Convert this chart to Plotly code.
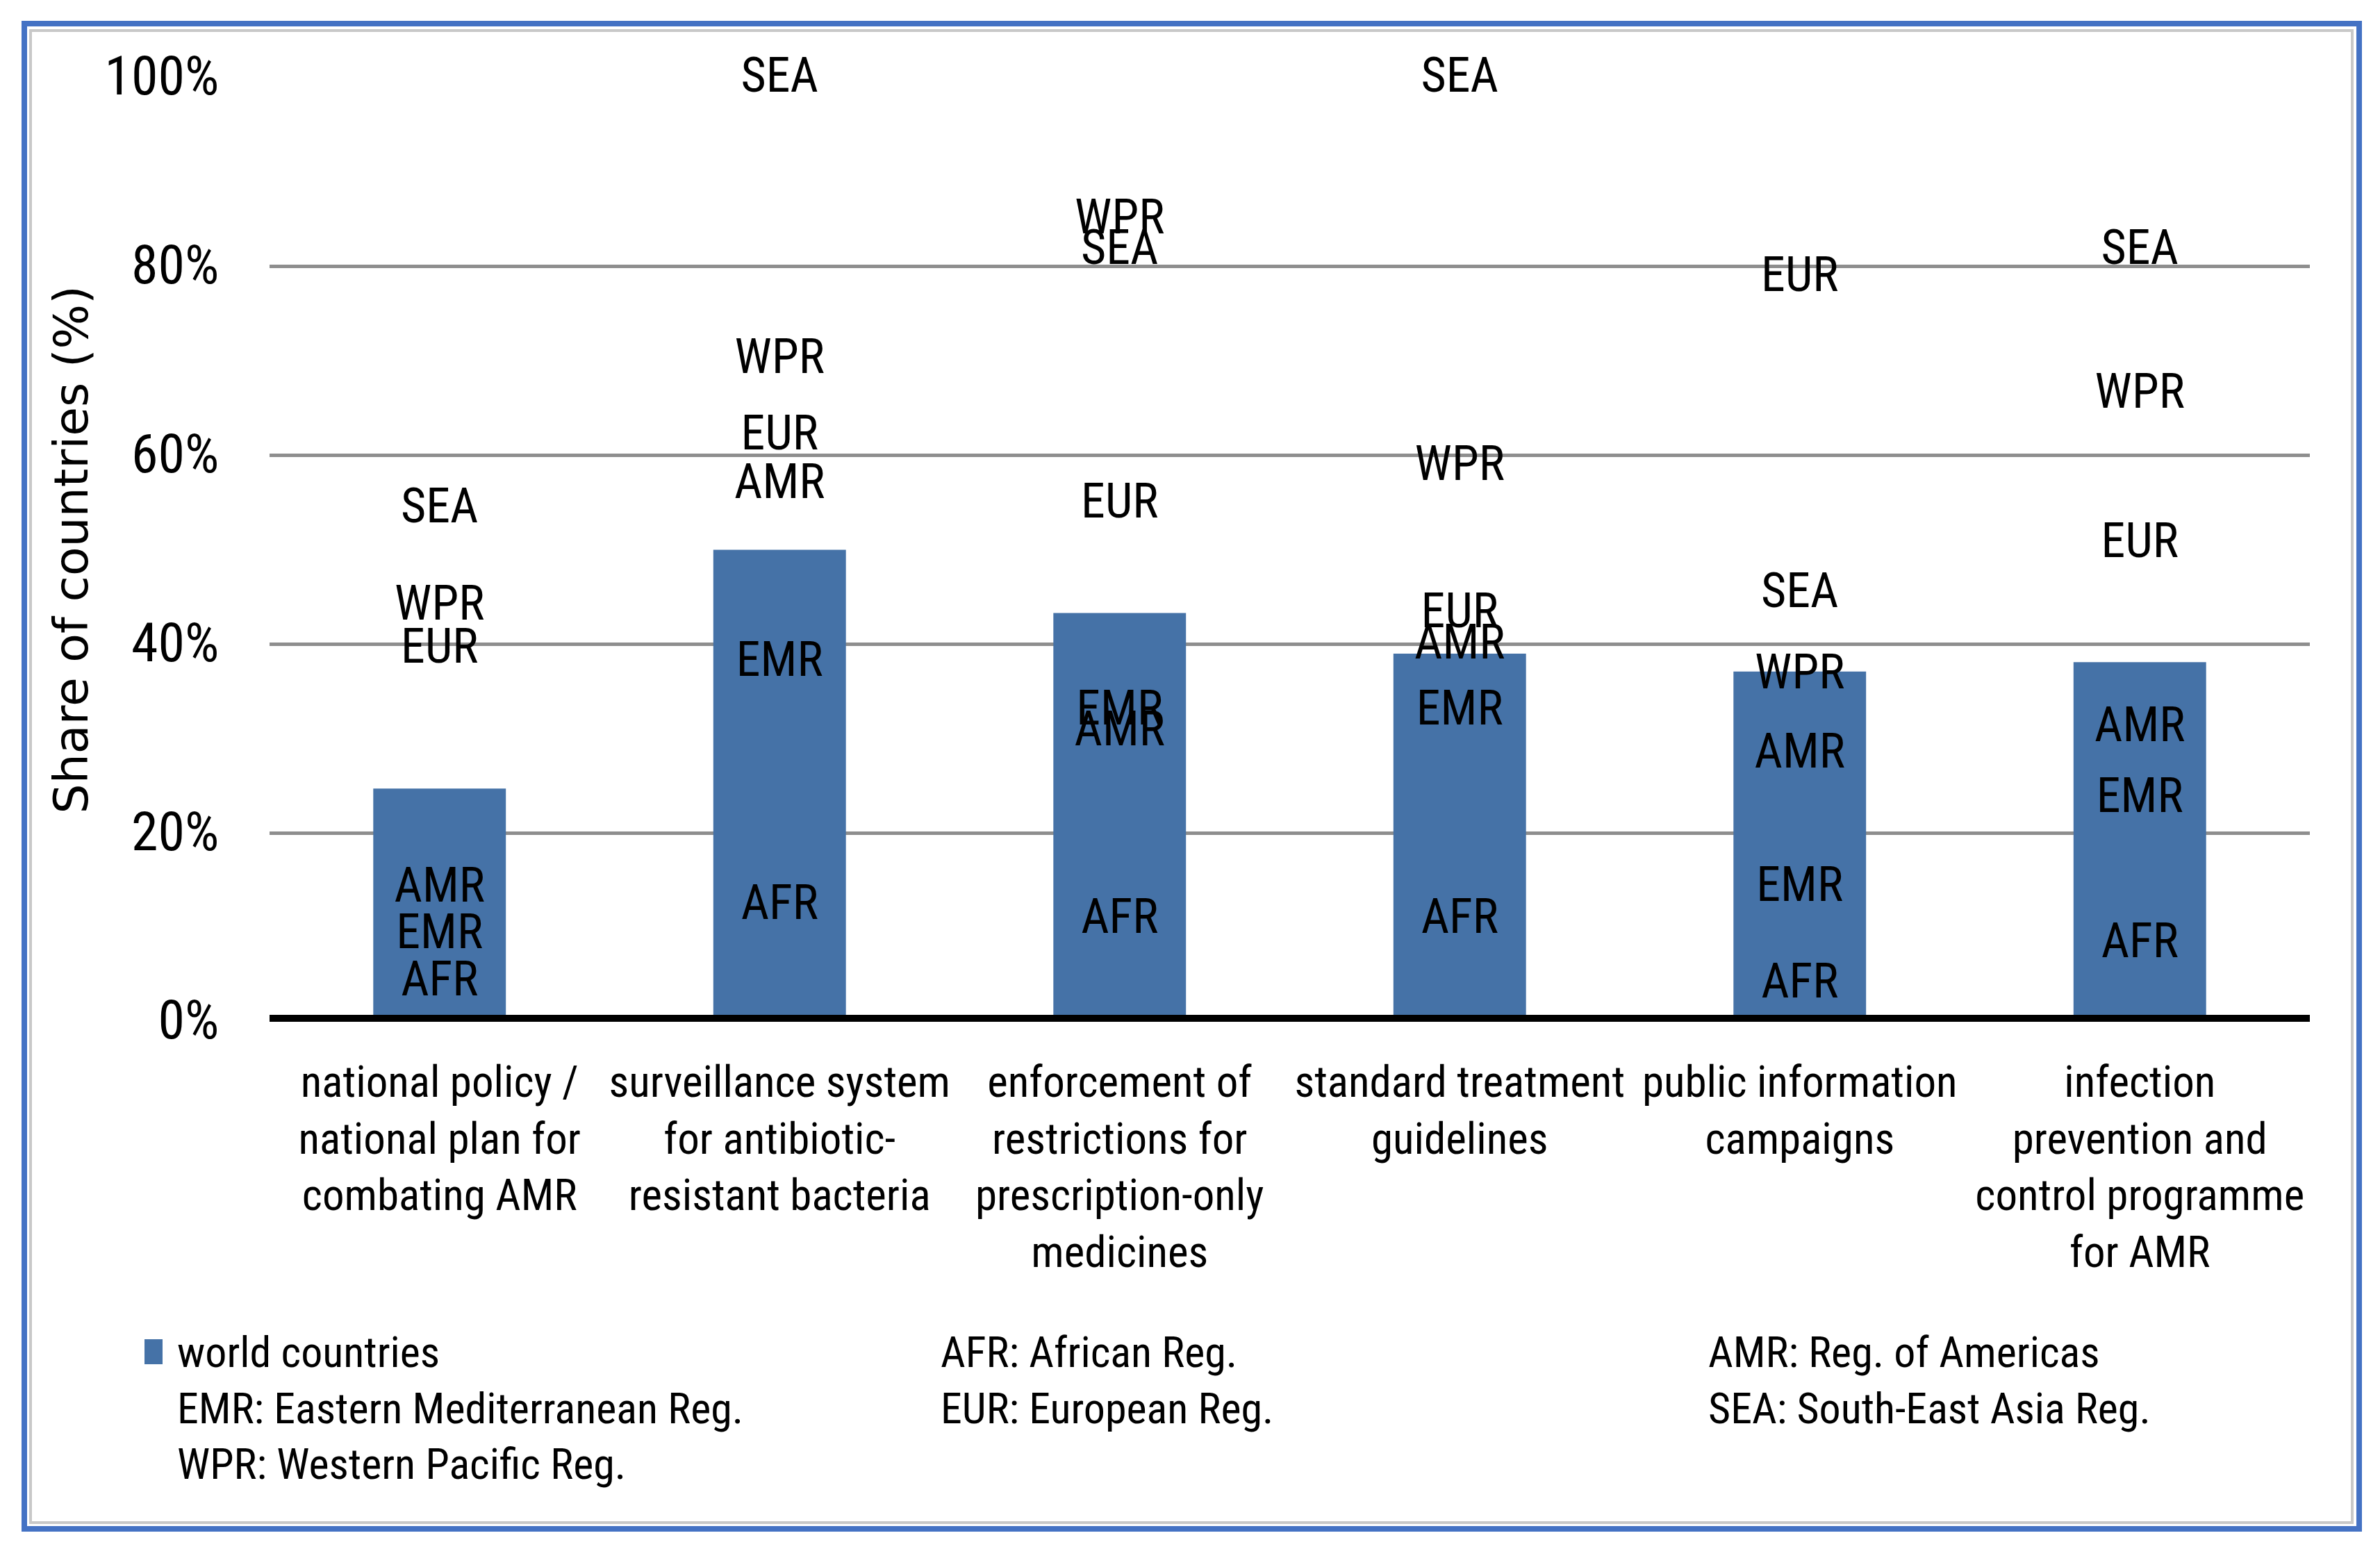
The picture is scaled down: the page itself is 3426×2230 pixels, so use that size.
import plotly.graph_objects as go

# ---------------- data ----------------
categories = [
    "national policy /<br>national plan for<br>combating AMR",
    "surveillance system<br>for antibiotic-<br>resistant bacteria",
    "enforcement of<br>restrictions for<br>prescription-only<br>medicines",
    "standard treatment<br>guidelines",
    "public information<br>campaigns",
    "infection<br>prevention and<br>control programme<br>for AMR",
]
world_countries = [24.7, 50.0, 43.3, 39.0, 37.1, 38.1]

region_names = ["AFR", "EMR", "AMR", "EUR", "SEA", "WPR"]
afr = [4.1, 12.2, 10.7, 10.7, 3.9, 8.1]
emr = [9.1, 37.9, 32.8, 32.8, 14.1, 23.5]
amr = [14.0, 56.8, 30.6, 39.8, 28.2, 31.0]
eur = [39.3, 61.9, 54.7, 43.1, 78.7, 50.5]
sea = [54.2, 99.8, 81.6, 99.8, 45.2, 81.6]
wpr = [43.9, 70.0, 84.8, 58.7, 36.6, 66.3]
region_values = [afr, emr, amr, eur, sea, wpr]

y_ticks = [0, 20, 40, 60, 80, 100]
y_tick_labels = ["0%", "20%", "40%", "60%", "80%", "100%"]

legend_rows = [
    ["world countries", "AFR: African Reg.", "AMR: Reg. of Americas"],
    ["EMR: Eastern Mediterranean Reg.", "EUR: European Reg.", "SEA: South-East Asia Reg."],
    ["WPR: Western Pacific Reg.", "", ""],
]

# ---------------- style ----------------
W, H = 3426, 2230
ML, MR, MT, MB = 380, 109, 104, 767
PW, PH = W - ML - MR, H - MT - MB
BAR_COLOR = "#4572A7"
NARROW = "Liberation Sans Narrow, Roboto Condensed, DejaVu Sans Condensed, Arial Narrow, sans-serif"


def px_x(px):
    return (px - ML) / PW


def px_y(py):
    return (H - MB - py) / PH


fig = go.Figure()
fig.add_trace(go.Bar(
    x=categories, y=world_countries, name="world countries",
    marker=dict(color=BAR_COLOR, line=dict(width=0)),
    width=0.39, showlegend=False, hoverinfo="x+y",
))
for name, vals in zip(region_names, region_values):
    fig.add_trace(go.Scatter(
        x=categories, y=vals, mode="text", text=[name] * len(vals),
        textposition="middle center", name=name,
        textfont=dict(family=NARROW, size=70, color="black"),
        cliponaxis=False, showlegend=False,
    ))

# legend as text block
col_x = [245, 1344, 2449]
row_y = [1938, 2019, 2099]
annotations = []
for r, row in enumerate(legend_rows):
    for c, txt in enumerate(row):
        if not txt:
            continue
        annotations.append(dict(
            x=px_x(col_x[c]), y=px_y(row_y[r]), xref="paper", yref="paper",
            text=txt, showarrow=False, xanchor="left", yanchor="middle",
            font=dict(family=NARROW, size=62, color="black"),
        ))
# y-axis title
annotations.append(dict(
    x=px_x(94), y=0.5, xref="paper", yref="paper", text="Share of countries (%)",
    showarrow=False, textangle=-90, xanchor="center", yanchor="middle",
    font=dict(family="DejaVu Sans, Verdana, sans-serif", size=68, color="black"),
))

shapes = [
    # baseline
    dict(type="line", xref="paper", yref="y", x0=0, x1=1, y0=0, y1=0,
         line=dict(color="black", width=20), layer="above"),
    # legend swatch
    dict(type="rect", xref="paper", yref="paper",
         x0=px_x(200), x1=px_x(226), y0=px_y(1920), y1=px_y(1956),
         fillcolor=BAR_COLOR, line=dict(width=0)),
    # inner grey frame line
    dict(type="rect", xref="paper", yref="paper",
         x0=px_x(36), x1=px_x(3378), y0=px_y(2184), y1=px_y(36),
         line=dict(color="#C8C8C8", width=4), fillcolor="rgba(0,0,0,0)"),
    # outer blue frame
    dict(type="rect", xref="paper", yref="paper",
         x0=px_x(27), x1=px_x(3388), y0=px_y(2193), y1=px_y(26),
         line=dict(color="#4472C4", width=8), fillcolor="rgba(0,0,0,0)"),
]

fig.update_layout(
    width=W, height=H,
    margin=dict(l=ML, r=MR, t=MT, b=MB, autoexpand=False),
    paper_bgcolor="white", plot_bgcolor="white",
    showlegend=False,
    annotations=annotations, shapes=shapes,
    xaxis=dict(
        type="category", categoryorder="array", categoryarray=categories,
        showgrid=False, showline=False, zeroline=False,
        ticks="outside", ticklen=31, tickcolor="rgba(0,0,0,0)",
        tickfont=dict(family=NARROW, size=63, color="black"),
        tickangle=0, automargin=False,
    ),
    yaxis=dict(
        range=[0, 100], tickmode="array", tickvals=y_ticks, ticktext=y_tick_labels,
        showgrid=True, gridcolor="#8E8E8E", gridwidth=5,
        zeroline=False, showline=False,
        ticks="outside", ticklen=56, tickcolor="rgba(0,0,0,0)",
        tickfont=dict(family=NARROW, size=78, color="black"),
        ticklabelshift=-3,
        automargin=False,
    ),
)

fig.write_html("out.html")
